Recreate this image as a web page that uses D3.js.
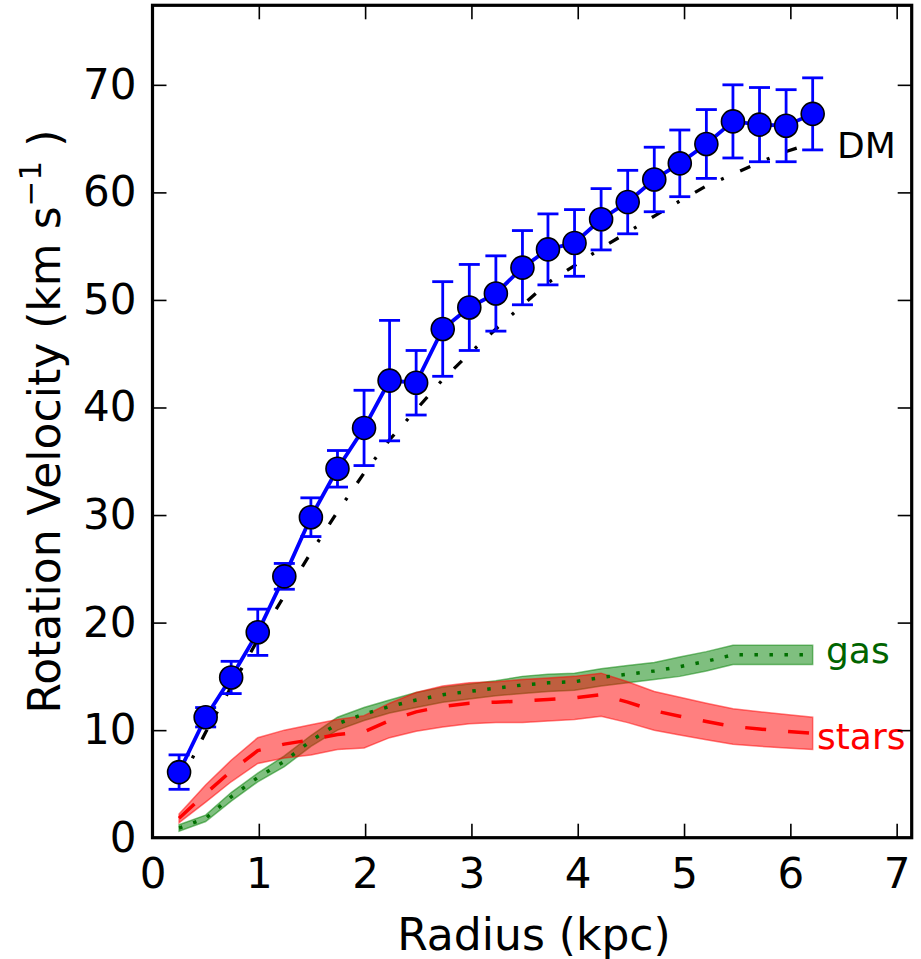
<!DOCTYPE html>
<html>
<head>
<meta charset="utf-8">
<script src="https://cdn.jsdelivr.net/npm/d3@7"></script>
<style>
  body { margin: 0; background: #fff; }
  text { font-family: "DejaVu Sans", sans-serif; }
</style>
</head>
<body>
<svg id="chart"></svg>
<script>
// radius (kpc) of each measured point
let radius = [0.25, 0.5, 0.74, 0.99, 1.24, 1.49, 1.74, 1.99, 2.23, 2.48, 2.73, 2.98, 3.23,
              3.48, 3.72, 3.97, 4.22, 4.47, 4.72, 4.96, 5.21, 5.46, 5.71, 5.96, 6.21]
// observed rotation velocity and error
let vObs = [6.1, 11.2, 14.9, 19.1, 24.3, 29.8, 34.3, 38.1, 42.5, 42.3, 47.3, 49.3, 50.6,
            53.0, 54.7, 55.3, 57.5, 59.1, 61.2, 62.7, 64.5, 66.6, 66.3, 66.2, 67.3]
let vErr = [1.6, 0.9, 1.5, 2.15, 1.2, 1.8, 1.7, 3.5, 5.6, 3.0, 4.4, 4.0, 3.5,
            3.45, 3.3, 3.1, 2.85, 2.95, 3.0, 3.1, 3.2, 3.4, 3.45, 3.35, 3.35]
// dark matter model
let vDM = [5.0, 9.8, 14.0, 18.4, 22.5, 26.5, 30.3, 33.9, 37.0, 39.8, 42.6, 45.0, 47.3,
           49.5, 51.6, 53.2, 54.8, 56.3, 57.8, 59.2, 60.6, 61.7, 62.8, 63.8, 64.6]
// gas contribution and band half-width
let vGas = [0.9, 1.8, 3.8, 5.6, 7.1, 9.0, 10.6, 11.5, 12.2, 12.8, 13.3, 13.6, 13.9,
            14.2, 14.4, 14.5, 14.9, 15.2, 15.5, 15.9, 16.4, 17.0, 17.0, 17.0, 17.0]
let gasErr = [0.3, 0.3, 0.4, 0.4, 0.5, 0.5, 0.6, 0.6, 0.6, 0.7, 0.7, 0.7, 0.7,
              0.8, 0.8, 0.8, 0.8, 0.8, 0.8, 0.9, 0.9, 0.9, 0.9, 0.9, 0.9]
// stellar contribution and band half-width
let vStars = [1.8, 4.1, 6.2, 8.1, 8.7, 9.1, 9.6, 9.85, 10.9, 11.7, 12.2, 12.5, 12.6,
              12.7, 12.85, 13.0, 13.3, 12.6, 11.8, 11.3, 10.8, 10.35, 10.1, 9.9, 9.7]
let starsErr = [0.4, 0.8, 1.0, 1.2, 1.3, 1.4, 1.4, 1.5, 1.6, 1.8, 1.9, 1.9, 1.9,
                2.0, 2.0, 2.0, 2.0, 1.9, 1.8, 1.75, 1.7, 1.65, 1.6, 1.55, 1.5]

let xTicks = [0, 1, 2, 3, 4, 5, 6, 7]
let yTicks = [0, 10, 20, 30, 40, 50, 60, 70]

let width = 921
let height = 959
let plotLeft = 152.5, plotRight = 911.7, plotTop = 5.3, plotBottom = 837.7

let svg = d3.select('#chart').attr('width', width).attr('height', height)

let xScale = d3.scaleLinear()
  .domain([0, d3.max(radius) * 1.15])
  .range([plotLeft, plotRight])
let yScale = d3.scaleLinear()
  .domain([0, d3.max(vObs) * 1.15])
  .range([plotBottom, plotTop])

let rows = radius.map((r, i) => ({
  r: r, v: vObs[i], e: vErr[i], dm: vDM[i],
  gas: vGas[i], ge: gasErr[i], st: vStars[i], se: starsErr[i]
}))

// bands
let gasArea = d3.area().x(d => xScale(d.r)).y0(d => yScale(d.gas - d.ge)).y1(d => yScale(d.gas + d.ge))
let starArea = d3.area().x(d => xScale(d.r)).y0(d => yScale(d.st - d.se)).y1(d => yScale(d.st + d.se))

svg.append('path').datum(rows).attr('d', gasArea)
  .attr('fill', '#008000').attr('fill-opacity', 0.5)
  .attr('stroke', '#008000').attr('stroke-opacity', 0.5).attr('stroke-width', 1.5)
svg.append('path').datum(rows).attr('d', starArea)
  .attr('fill', '#ff0000').attr('fill-opacity', 0.5)
  .attr('stroke', '#ff0000').attr('stroke-opacity', 0.5).attr('stroke-width', 1.5)

let line = (key) => d3.line().x(d => xScale(d.r)).y(d => yScale(d[key]))

svg.append('path').datum(rows).attr('d', line('gas'))
  .attr('fill', 'none').attr('stroke', '#007000').attr('stroke-width', 3.5)
  .attr('stroke-dasharray', '3.5,11.5')
svg.append('path').datum(rows).attr('d', line('st'))
  .attr('fill', 'none').attr('stroke', '#ff0000').attr('stroke-width', 3.5)
  .attr('stroke-dasharray', '21,22')
svg.append('path').datum(rows).attr('d', line('dm'))
  .attr('fill', 'none').attr('stroke', '#000').attr('stroke-width', 3.3)
  .attr('stroke-dasharray', '11,18,3,18')

// observed curve
svg.append('path').datum(rows).attr('d', line('v'))
  .attr('fill', 'none').attr('stroke', '#0000ff').attr('stroke-width', 3.8)

let bars = svg.append('g').attr('stroke', '#0000ff').attr('stroke-width', 2.8)
bars.selectAll('.eb').data(rows).enter().append('line')
  .attr('x1', d => xScale(d.r)).attr('x2', d => xScale(d.r))
  .attr('y1', d => yScale(d.v - d.e)).attr('y2', d => yScale(d.v + d.e))
bars.selectAll('.capTop').data(rows).enter().append('line')
  .attr('x1', d => xScale(d.r) - 10.5).attr('x2', d => xScale(d.r) + 10.5)
  .attr('y1', d => yScale(d.v + d.e)).attr('y2', d => yScale(d.v + d.e))
bars.selectAll('.capBot').data(rows).enter().append('line')
  .attr('x1', d => xScale(d.r) - 10.5).attr('x2', d => xScale(d.r) + 10.5)
  .attr('y1', d => yScale(d.v - d.e)).attr('y2', d => yScale(d.v - d.e))

svg.selectAll('.pt').data(rows).enter().append('circle')
  .attr('cx', d => xScale(d.r)).attr('cy', d => yScale(d.v)).attr('r', 11.5)
  .attr('fill', '#0000ff').attr('stroke', '#000').attr('stroke-width', 1.6)

// curve labels
svg.append('text').attr('x', 837).attr('y', 158).attr('font-size', 36).text('DM')
svg.append('text').attr('x', 826).attr('y', 663).attr('font-size', 36).attr('fill', '#006400').text('gas')
svg.append('text').attr('x', 817).attr('y', 749).attr('font-size', 36).attr('fill', '#ff0000').text('stars')

// axes, ticks pointing in on every side
let styleAxis = (g) => {
  g.select('.domain').remove()
  g.selectAll('.tick line').attr('stroke', '#000').attr('stroke-width', 1.6)
  g.selectAll('.tick text').attr('fill', '#000').attr('font-size', 42)
    .attr('font-family', '"DejaVu Sans", sans-serif')
}

svg.append('g').attr('transform', 'translate(0,' + plotBottom + ')')
  .call(d3.axisBottom(xScale).tickValues(xTicks).tickFormat(d3.format('d'))
    .tickSizeInner(-14).tickSizeOuter(0).tickPadding(20))
  .call(styleAxis)
svg.append('g').attr('transform', 'translate(0,' + plotTop + ')')
  .call(d3.axisTop(xScale).tickValues(xTicks).tickFormat('')
    .tickSizeInner(-14).tickSizeOuter(0))
  .call(styleAxis)
svg.append('g').attr('transform', 'translate(' + plotLeft + ',0)')
  .call(d3.axisLeft(yScale).tickValues(yTicks).tickFormat(d3.format('d'))
    .tickSizeInner(-14).tickSizeOuter(0).tickPadding(16))
  .call(styleAxis)
svg.append('g').attr('transform', 'translate(' + plotRight + ',0)')
  .call(d3.axisRight(yScale).tickValues(yTicks).tickFormat('')
    .tickSizeInner(-14).tickSizeOuter(0))
  .call(styleAxis)

svg.append('rect').attr('x', plotLeft).attr('y', plotTop)
  .attr('width', plotRight - plotLeft).attr('height', plotBottom - plotTop)
  .attr('fill', 'none').attr('stroke', '#000').attr('stroke-width', 3.2)

svg.append('text').attr('x', 534).attr('y', 950)
  .attr('text-anchor', 'middle').attr('font-size', 44).text('Radius (kpc)')

let yLabel = svg.append('text')
  .attr('transform', 'translate(60,' + (plotTop + plotBottom) / 2 + ') rotate(-90)')
  .attr('text-anchor', 'middle').attr('font-size', 44)
yLabel.append('tspan').text('Rotation Velocity (km s')
yLabel.append('tspan').attr('font-size', 31).attr('dy', -19).text('\u22121')
yLabel.append('tspan').attr('dy', 19).text(' )')
</script>
</body>
</html>
